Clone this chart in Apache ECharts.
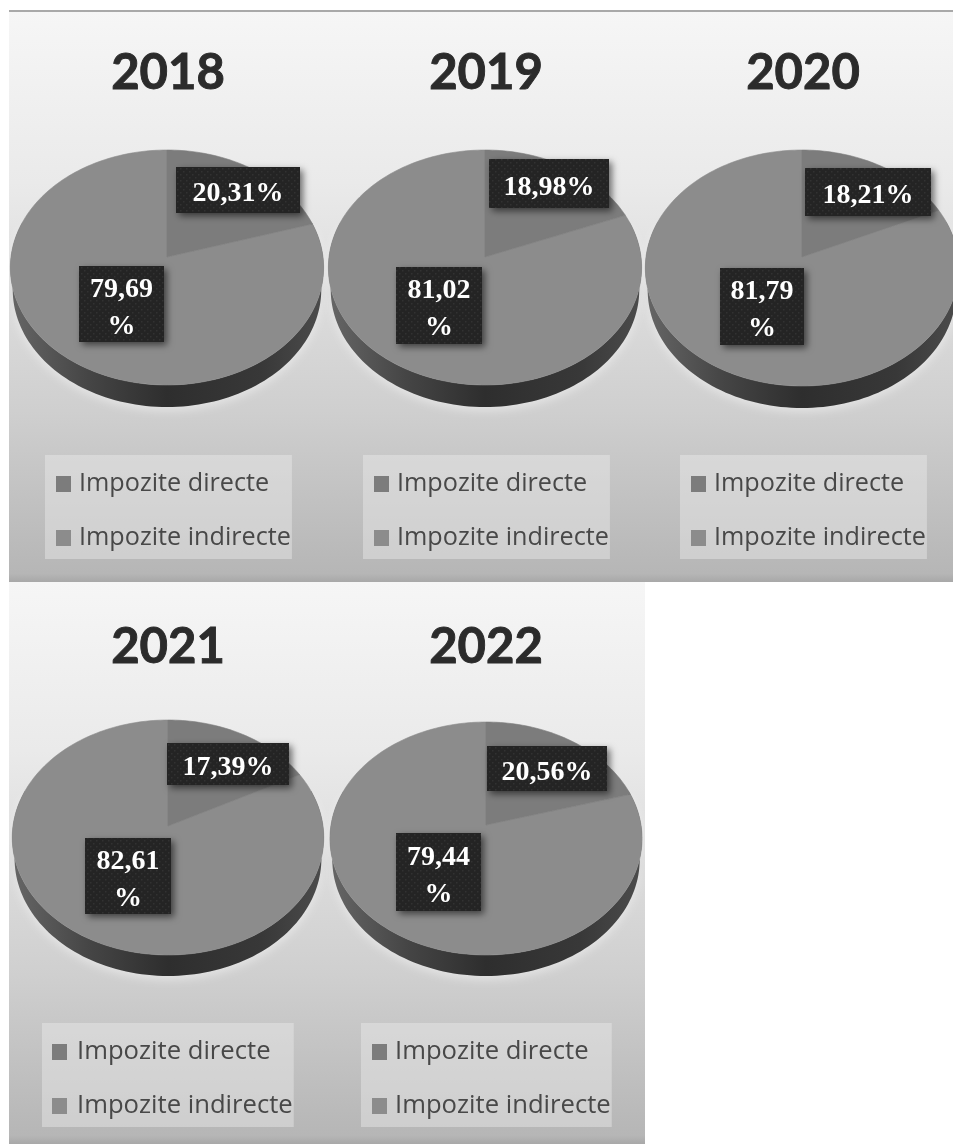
<!DOCTYPE html>
<html>
<head>
<meta charset="utf-8">
<style>html,body{margin:0;padding:0;background:#fff}#c{width:953px;height:1144px}</style>
<script src="https://cdn.jsdelivr.net/npm/echarts@6/dist/echarts.min.js"></script>
</head>
<body>
<div id="c"></div>
<script>
// ---- data ----
const years = ['2018', '2019', '2020', '2021', '2022'];
const seriesNames = ['Impozite directe', 'Impozite indirecte'];
const directValues = [20.31, 18.98, 18.21, 17.39, 20.56];
const indirectValues = [79.69, 81.02, 81.79, 82.61, 79.44];

// ---- layout ----
const panels = [[9, 11, 318, 571], [327, 11, 318, 571], [645, 11, 308, 571], [9, 582, 318, 562], [327, 582, 318, 562]];
const titleCenters = [[168, 73], [486, 73], [803, 73], [168, 647], [486, 647]];
const pieGeom = [ // apexX, apexY, top, bottom, radiusX, depth
  [167, 257, 150, 385, 156, 22],
  [485, 257, 150, 385, 156, 22],
  [802, 257, 150, 386, 156, 22],
  [168, 826, 720, 955, 155, 21],
  [486, 825, 722, 955, 155, 21]
];
const directBoxes = [[176, 167, 124, 46], [489, 159, 120, 49], [805, 168, 126, 48], [167, 743, 122, 42], [487, 746, 120, 45]];
const indirectBoxes = [[79, 266, 85, 76], [396, 267, 86, 77], [720, 268, 84, 77], [85, 838, 86, 76], [396, 833, 85, 78]];
const legendPos = [[45, 455], [363, 455], [680, 455], [42, 1023], [361, 1023]];
const legendTextPad = [3, 3, 3, 5, 3];
const legendFontSizes = [25.2, 25.2, 25.2, 25.65, 25.65];

function label(v) { return v.toFixed(2).replace('.', ','); }
function project(g, frac, dy, sx) {
  const T = g[1] - g[2], B = g[3] - g[1], k = (B - T) / (B + T), R2 = T * (1 + k);
  const th = 2 * Math.PI * frac, u = Math.sin(th), v = Math.cos(th), w = 1 / (1 + k * v);
  return [g[0] + g[4] * u * w * (sx || 1), g[1] - R2 * v * w + (dy || 0)];
}
function slicePoints(g, from, to) {
  const pts = [[g[0], g[1]]];
  const n = Math.max(8, Math.round((to - from) * 240));
  for (let i = 0; i <= n; i++) pts.push(project(g, from + (to - from) * i / n));
  return pts;
}
function sliceRender(startOf) {
  return function (params, api) {
    const i = api.value(0), v = api.value(1);
    const from = startOf(i) / 100, to = from + v / 100;
    return { type: 'polygon', shape: { points: slicePoints(pieGeom[i], from, to) },
      style: { fill: api.visual('color'), stroke: api.visual('color'), lineWidth: 0.6 } };
  };
}
function sideRender(params, api) {
  const i = api.value(0), g = pieGeom[i], pts = [];
  for (let a = 0.2; a <= 0.8001; a += 0.005) pts.push(project(g, a));
  for (let a = 0.8; a >= 0.1999; a -= 0.005) pts.push(project(g, a, g[5], 0.985));
  return { type: 'polygon', shape: { points: pts }, style: {
    fill: new echarts.graphic.LinearGradient(0, 0, 1, 0, [
      { offset: 0, color: '#666666' }, { offset: 0.25, color: '#454545' }, { offset: 0.5, color: '#2e2e2e' },
      { offset: 0.8, color: '#383838' }, { offset: 1, color: '#4c4c4c' }]),
    shadowColor: 'rgba(255,255,255,0.4)', shadowBlur: 8, shadowOffsetY: 4 } };
}
// dark dotted texture of the label boxes
const tile = document.createElement('canvas'); tile.width = tile.height = 6;
(function () {
  const c = tile.getContext('2d');
  c.fillStyle = '#242424'; c.fillRect(0, 0, 6, 6);
  c.fillStyle = '#323232'; c.fillRect(0, 0, 1.5, 1.5); c.fillRect(3, 3, 1.5, 1.5);
})();
function labelRender(boxes, multiLine) {
  return function (params, api) {
    const i = api.value(0), v = api.value(1), b = boxes[i];
    const text = multiLine ? label(v) + '\n%' : label(v) + '%';
    return { type: 'group', children: [
      { type: 'rect', shape: { x: b[0], y: b[1], width: b[2], height: b[3] },
        style: { fill: { image: tile, repeat: 'repeat' }, shadowColor: 'rgba(0,0,0,0.55)', shadowBlur: 7, shadowOffsetX: 3, shadowOffsetY: 3 } },
      { type: 'text', style: { x: b[0] + b[2] / 2, y: b[1] + b[3] / 2 + 4, text: text, fill: '#ffffff',
        font: 'bold 28px "Liberation Serif"', lineHeight: 37, align: 'center', verticalAlign: 'middle' } }
    ] };
  };
}

const graphicEls = [];
panels.forEach(function (p) {
  graphicEls.push({ type: 'rect', z: -10, shape: { x: p[0], y: p[1], width: p[2], height: p[3] },
    style: { fill: new echarts.graphic.LinearGradient(0, 0, 0, 1, [
      { offset: 0, color: '#f6f6f6' }, { offset: 0.3, color: '#eaeaea' }, { offset: 0.7, color: '#cfcfcf' },
      { offset: 0.985, color: '#b6b6b6' }, { offset: 1, color: '#a8a8a8' }]) } });
});
graphicEls.push({ type: 'rect', z: -9, shape: { x: 9, y: 10, width: 944, height: 2 }, style: { fill: '#a9a9a9' } });
years.forEach(function (y, i) {
  graphicEls.push({ type: 'text', z: 5, style: { x: titleCenters[i][0], y: titleCenters[i][1], text: y, fill: '#2b2b2b',
    stroke: '#2b2b2b', lineWidth: 0.9, font: 'bold 49px Lato', align: 'center', verticalAlign: 'middle' } });
});

const idx = years.map(function (_, i) { return i; });
const option = {
  animation: false,
  backgroundColor: '#ffffff',
  graphic: { elements: graphicEls },
  legend: legendPos.map(function (p, i) {
    return { data: seriesNames, orient: 'vertical', left: p[0], top: p[1], icon: 'rect', itemWidth: 15, itemHeight: 16, itemGap: 20,
      padding: [12, 1, 4, i === 3 ? 10 : 11], backgroundColor: 'rgba(235,235,235,0.45)', selectedMode: false,
      textStyle: { fontFamily: 'Open Sans', fontSize: legendFontSizes[i], color: '#484848', lineHeight: 30, padding: [4, 0, 0, legendTextPad[i]] } };
  }),
  series: [
    { type: 'custom', name: 'side', coordinateSystem: 'none', silent: true, z: 1, renderItem: sideRender,
      data: idx.map(function (i) { return [i, 100]; }) },
    { type: 'custom', name: seriesNames[1], coordinateSystem: 'none', silent: true, z: 2, itemStyle: { color: '#8c8c8c' },
      renderItem: sliceRender(function (i) { return directValues[i]; }),
      data: indirectValues.map(function (v, i) { return [i, v]; }) },
    { type: 'custom', name: seriesNames[0], coordinateSystem: 'none', silent: true, z: 3, itemStyle: { color: '#7c7c7c' },
      renderItem: sliceRender(function () { return 0; }),
      data: directValues.map(function (v, i) { return [i, v]; }) },
    { type: 'custom', name: 'directLabels', coordinateSystem: 'none', silent: true, z: 4, renderItem: labelRender(directBoxes, false),
      data: directValues.map(function (v, i) { return [i, v]; }) },
    { type: 'custom', name: 'indirectLabels', coordinateSystem: 'none', silent: true, z: 4, renderItem: labelRender(indirectBoxes, true),
      data: indirectValues.map(function (v, i) { return [i, v]; }) }
  ]
};
echarts.init(document.getElementById('c'), null, { renderer: 'canvas' }).setOption(option);
</script>
</body>
</html>
